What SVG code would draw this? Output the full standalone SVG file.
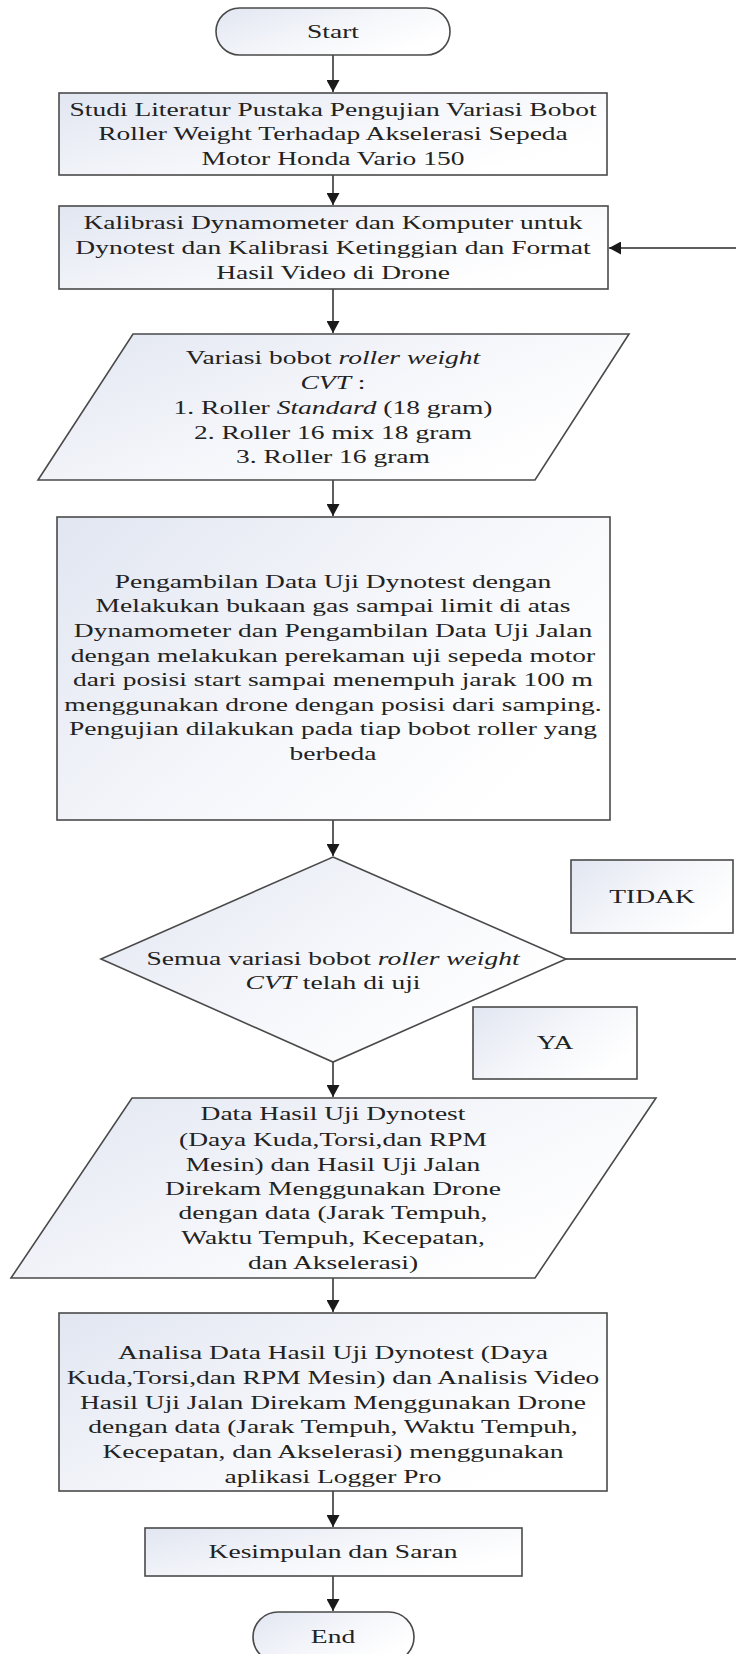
<svg xmlns="http://www.w3.org/2000/svg" width="736" height="1654" viewBox="0 0 736 1654">
<style>
.n{stroke:#4a4a4a;stroke-width:1.6;fill:url(#g)}
.c{stroke:#2a2a2a;stroke-width:1.5;fill:none}
.t{font-family:"Liberation Serif","Times New Roman",serif;font-size:19.5px;fill:#222;text-anchor:middle}
.i{font-style:italic}
</style>
<defs>
<linearGradient id="g" x1="0" y1="0" x2="1" y2="0.6">
<stop offset="0" stop-color="#e1e6f1"/>
<stop offset="0.6" stop-color="#f6f7fb"/>
<stop offset="1" stop-color="#ffffff"/>
</linearGradient>
<marker id="a" markerUnits="userSpaceOnUse" markerWidth="13" markerHeight="13" refX="12" refY="6.5" orient="auto">
<path d="M0,0 L12,6.5 L0,13 z" fill="#1a1a1a"/>
</marker>
</defs>
<rect width="736" height="1654" fill="#fff"/>
<g id="connectors">
<path class="c" d="M333,55 V92" marker-end="url(#a)"/>
<path class="c" d="M333,175 V205" marker-end="url(#a)"/>
<path class="c" d="M333,289 V333" marker-end="url(#a)"/>
<path class="c" d="M333,480 V516" marker-end="url(#a)"/>
<path class="c" d="M333,820 V856" marker-end="url(#a)"/>
<path class="c" d="M333,1062 V1097" marker-end="url(#a)"/>
<path class="c" d="M333,1278 V1312" marker-end="url(#a)"/>
<path class="c" d="M333,1491 V1527" marker-end="url(#a)"/>
<path class="c" d="M333,1576 V1611" marker-end="url(#a)"/>
<path class="c" d="M566,959 H742 V248 H609" marker-end="url(#a)"/>
</g>
<g id="start">
<rect class="n" x="216" y="8" width="234" height="47" rx="23.5"/>
<text class="t" transform="translate(333 0) scale(1.41 1)"><tspan x="0" y="38">Start</tspan></text>
</g>
<g id="studi">
<rect class="n" x="59" y="93" width="548" height="82"/>
<text class="t" transform="translate(333 0) scale(1.41 1)"><tspan x="0" y="116">Studi Literatur Pustaka Pengujian Variasi Bobot</tspan><tspan x="0" y="140">Roller Weight Terhadap Akselerasi Sepeda</tspan><tspan x="0" y="165">Motor Honda Vario 150</tspan></text>
</g>
<g id="kalibrasi">
<rect class="n" x="59" y="206" width="549" height="83"/>
<text class="t" transform="translate(333 0) scale(1.41 1)"><tspan x="0" y="229">Kalibrasi Dynamometer dan Komputer untuk</tspan><tspan x="0" y="254">Dynotest dan Kalibrasi Ketinggian dan Format</tspan><tspan x="0" y="279">Hasil Video di Drone</tspan></text>
</g>
<g id="variasi">
<polygon class="n" points="133,334 629,334 535,480 38,480"/>
<text class="t" transform="translate(333 0) scale(1.41 1)"><tspan x="0" y="364">Variasi bobot <tspan class="i">roller weight</tspan></tspan><tspan x="0" y="389"><tspan class="i">CVT</tspan> :</tspan><tspan x="0" y="414">1. Roller <tspan class="i">Standard</tspan> (18 gram)</tspan><tspan x="0" y="439">2. Roller 16 mix 18 gram</tspan><tspan x="0" y="463">3. Roller 16 gram</tspan></text>
</g>
<g id="pengambilan">
<rect class="n" x="57" y="517" width="553" height="303"/>
<text class="t" transform="translate(333 0) scale(1.41 1)"><tspan x="0" y="588">Pengambilan Data Uji Dynotest dengan</tspan><tspan x="0" y="612">Melakukan bukaan gas sampai limit di atas</tspan><tspan x="0" y="637">Dynamometer dan Pengambilan Data Uji Jalan</tspan><tspan x="0" y="662">dengan  melakukan perekaman uji sepeda motor</tspan><tspan x="0" y="686">dari posisi start  sampai menempuh jarak 100 m</tspan><tspan x="0" y="711">menggunakan drone dengan posisi dari samping.</tspan><tspan x="0" y="735">Pengujian dilakukan pada tiap bobot roller yang</tspan><tspan x="0" y="760">berbeda</tspan></text>
</g>
<g id="keputusan">
<polygon class="n" points="333,857 566,959 333,1062 101,959"/>
<text class="t" transform="translate(333 0) scale(1.41 1)"><tspan x="0" y="965">Semua variasi bobot <tspan class="i">roller weight</tspan></tspan><tspan x="0" y="989"><tspan class="i">CVT</tspan> telah di uji</tspan></text>
</g>
<g id="tidak">
<rect class="n" x="571" y="860" width="162" height="73"/>
<text class="t" transform="translate(652 0) scale(1.41 1)"><tspan x="0" y="903">TIDAK</tspan></text>
</g>
<g id="ya">
<rect class="n" x="473" y="1007" width="164" height="72"/>
<text class="t" transform="translate(555 0) scale(1.41 1)"><tspan x="0" y="1049">YA</tspan></text>
</g>
<g id="data">
<polygon class="n" points="132,1098 656,1098 535,1278 11,1278"/>
<text class="t" transform="translate(333 0) scale(1.41 1)"><tspan x="0" y="1120">Data Hasil Uji Dynotest</tspan><tspan x="0" y="1146">(Daya Kuda,Torsi,dan RPM</tspan><tspan x="0" y="1171">Mesin) dan Hasil Uji Jalan</tspan><tspan x="0" y="1195">Direkam Menggunakan Drone</tspan><tspan x="0" y="1219">dengan data (Jarak Tempuh,</tspan><tspan x="0" y="1244">Waktu Tempuh, Kecepatan,</tspan><tspan x="0" y="1269">dan Akselerasi)</tspan></text>
</g>
<g id="analisa">
<rect class="n" x="59" y="1313" width="548" height="178"/>
<text class="t" transform="translate(333 0) scale(1.41 1)"><tspan x="0" y="1359">Analisa Data Hasil Uji Dynotest  (Daya</tspan><tspan x="0" y="1384">Kuda,Torsi,dan RPM Mesin) dan Analisis Video</tspan><tspan x="0" y="1409">Hasil Uji Jalan Direkam Menggunakan Drone</tspan><tspan x="0" y="1433">dengan data (Jarak Tempuh, Waktu Tempuh,</tspan><tspan x="0" y="1458">Kecepatan, dan Akselerasi) menggunakan</tspan><tspan x="0" y="1483">aplikasi Logger Pro</tspan></text>
</g>
<g id="kesimpulan">
<rect class="n" x="145" y="1528" width="377" height="48"/>
<text class="t" transform="translate(333 0) scale(1.41 1)"><tspan x="0" y="1558">Kesimpulan dan Saran</tspan></text>
</g>
<g id="end">
<rect class="n" x="253" y="1612" width="161" height="50" rx="25"/>
<text class="t" transform="translate(333 0) scale(1.41 1)"><tspan x="0" y="1643">End</tspan></text>
</g>
</svg>
